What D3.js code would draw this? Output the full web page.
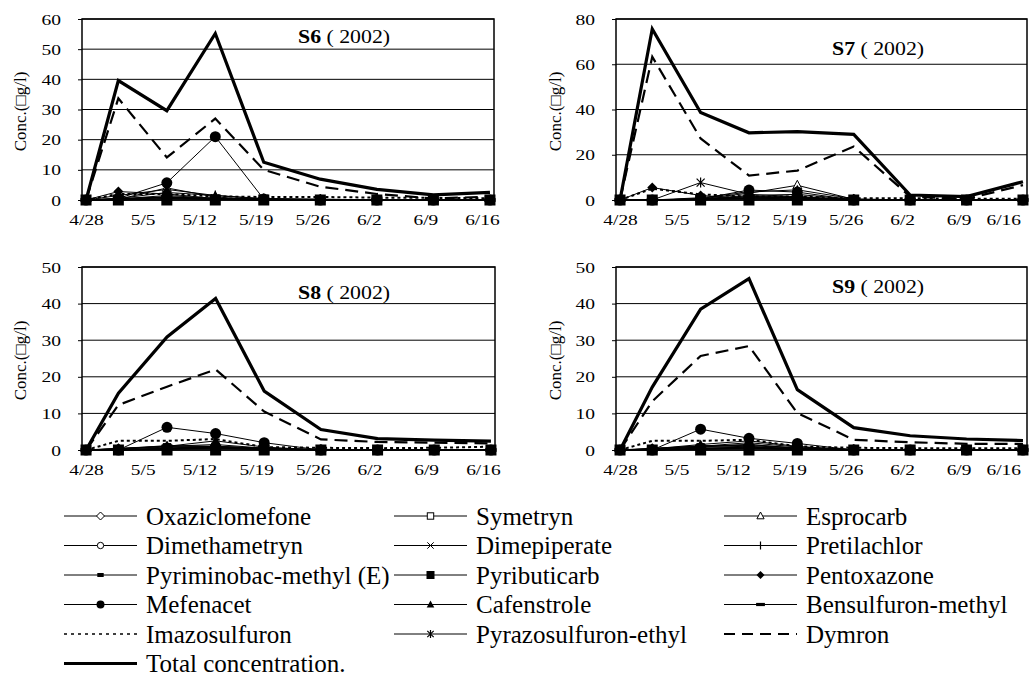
<!DOCTYPE html>
<html>
<head>
<meta charset="utf-8">
<script src="https://cdn.jsdelivr.net/npm/d3@7"></script>
<style>
  body { margin: 0; background: #fff; }
  svg { display: block; }
  text { font-family: "Liberation Serif", "Times New Roman", serif; fill: #000; }
</style>
</head>
<body>
<svg id="chart" width="1034" height="676"></svg>
<script>
// Sampling dates and weekly axis labels
const sampleDates = ["2002-04-28", "2002-05-02", "2002-05-08", "2002-05-14", "2002-05-20",
                     "2002-05-27", "2002-06-03", "2002-06-10", "2002-06-17"];
const tickDates = ["2002-04-28", "2002-05-05", "2002-05-12", "2002-05-19",
                   "2002-05-26", "2002-06-02", "2002-06-09", "2002-06-16"];

const seriesNames = ["Oxaziclomefone", "Symetryn", "Esprocarb",
                     "Dimethametryn", "Dimepiperate", "Pretilachlor",
                     "Pyriminobac-methyl (E)", "Pyributicarb", "Pentoxazone",
                     "Mefenacet", "Cafenstrole", "Bensulfuron-methyl",
                     "Imazosulfuron", "Pyrazosulfuron-ethyl", "Dymron",
                     "Total concentration."];

const siteNames = ["S6", "S7", "S8", "S9"];
const yMaxima = [60, 80, 50, 50];
const ySteps = [10, 20, 10, 10];

// Concentrations (µg/l), one row per entry of seriesNames
const s6Values = [
  [0, 0.0, 0.5, 0.2, 0, 0, 0, 0, 0],
  [0, 0.2, 1.0, 0.3, 0, 0, 0, 0, 0],
  [0, 0.2, 4.0, 1.0, 0, 0, 0, 0, 0],
  [0, 0.0, 0.8, 0.2, 0, 0, 0, 0, 0],
  [0, 0.0, 0.5, 0.3, 0.5, 0, 0, 0, 0],
  [0, 0.5, 2.5, 1.5, 0.5, 0.3, 0, 0, 0],
  [0, 0.3, 1.5, 0.5, 0, 0, 0, 0, 0],
  [0, 0, 0, 0, 0, 0, 0, 0, 0],
  [0, 2.8, 2.0, 0.5, 0, 0, 0, 0, 0],
  [0, 0.5, 5.7, 21.0, 0.3, 0, 0, 0, 0],
  [0, 1.5, 3.5, 1.5, 0.3, 0, 0, 0, 0],
  [0, 0.5, 1.0, 0.5, 0.3, 0.2, 0.1, 0, 0],
  [0, 2.0, 2.0, 1.2, 1.0, 1.0, 0.8, 0.7, 0.6],
  [0, 0.3, 1.0, 0.5, 0.2, 0, 0, 0, 0],
  [0, 33.7, 14.1, 27.0, 10.0, 4.4, 2.0, 0.5, 1.1],
  [0, 39.6, 29.6, 55.2, 12.5, 6.9, 3.5, 1.7, 2.5]
];
const s7Values = [
  [0, 0, 0.2, 0.5, 0.5, 0, 0, 0, 0],
  [0, 0, 0.3, 1.0, 1.2, 0, 0, 0, 0],
  [0, 0, 0.5, 3.0, 6.5, 0.3, 0, 0, 0],
  [0, 0, 0.2, 0.8, 0.5, 0, 0, 0, 0],
  [0, 0, 0.3, 1.0, 0.8, 0, 0, 0, 0],
  [0, 0, 0.5, 2.0, 2.5, 0.2, 0, 0, 0],
  [0, 0, 0.5, 1.5, 1.0, 0, 0, 0, 0],
  [0, 0, 0, 0, 0, 0, 0, 0, 0],
  [0, 5.5, 2.0, 0.5, 0.3, 0, 0, 0, 0],
  [0, 0, 0.5, 4.4, 3.5, 0, 0, 0, 0],
  [0, 0, 1.0, 3.5, 4.5, 0.5, 0, 0, 0],
  [0, 0, 0.3, 1.5, 1.5, 0.2, 0, 0, 0],
  [0, 5.0, 2.5, 1.5, 1.5, 0.8, 0.8, 0.5, 0.5],
  [0, 0, 7.7, 2.5, 1.5, 0, 0, 0, 0],
  [0, 63.3, 27.2, 10.8, 13.0, 23.6, 1.5, 0.5, 6.6],
  [0, 75.6, 38.7, 29.7, 30.2, 29.0, 2.2, 1.5, 8.1]
];
const s8Values = [
  [0, 0, 0.3, 0.5, 0.2, 0, 0, 0, 0],
  [0, 0, 0.5, 0.8, 0.3, 0, 0, 0, 0],
  [0, 0, 0.5, 1.0, 0.5, 0, 0, 0, 0],
  [0, 0, 0.2, 0.5, 0.2, 0, 0, 0, 0],
  [0, 0, 0.3, 0.8, 0.3, 0, 0, 0, 0],
  [0, 0.3, 1.0, 1.5, 0.5, 0.2, 0, 0, 0],
  [0, 0.3, 1.2, 1.0, 0.5, 0, 0, 0, 0],
  [0, 0, 0, 0, 0, 0, 0, 0, 0],
  [0, 0.5, 1.0, 1.0, 0.3, 0, 0, 0, 0],
  [0, 0, 6.2, 4.5, 2.0, 0, 0, 0, 0],
  [0, 0.3, 1.0, 2.5, 0.8, 0, 0, 0, 0],
  [0, 0.2, 0.8, 0.8, 0.3, 0.1, 0, 0, 0],
  [0, 2.5, 2.5, 3.0, 0.8, 0.6, 0.5, 0.6, 0.9],
  [0, 0, 0.5, 0.5, 0.2, 0, 0, 0, 0],
  [0, 12.3, 17.3, 22.0, 10.5, 2.9, 2.2, 2.0, 1.8],
  [0, 15.5, 30.9, 41.4, 16.1, 5.6, 3.1, 2.7, 2.4]
];
const s9Values = [
  [0, 0, 0.3, 0.5, 0.2, 0, 0, 0, 0],
  [0, 0, 0.5, 0.8, 0.3, 0, 0, 0, 0],
  [0, 0, 0.8, 1.5, 0.5, 0, 0, 0, 0],
  [0, 0, 0.2, 0.5, 0.2, 0, 0, 0, 0],
  [0, 0, 0.3, 0.8, 0.3, 0, 0, 0, 0],
  [0, 0.3, 1.0, 2.0, 0.8, 0.2, 0, 0, 0],
  [0, 0.3, 1.2, 1.2, 0.5, 0, 0, 0, 0],
  [0, 0, 0, 0, 0, 0, 0, 0, 0],
  [0, 0.5, 1.0, 1.5, 0.5, 0, 0, 0, 0],
  [0, 0, 5.7, 3.2, 1.8, 0, 0, 0, 0],
  [0, 0.3, 1.5, 2.5, 1.0, 0, 0, 0, 0],
  [0, 0.2, 0.8, 1.0, 0.3, 0.1, 0, 0, 0],
  [0, 2.5, 2.5, 2.8, 1.0, 0.6, 0.5, 0.5, 0.5],
  [0, 0, 0.5, 0.5, 0.2, 0, 0, 0, 0],
  [0, 13.3, 25.7, 28.4, 10.1, 2.8, 2.1, 1.7, 1.7],
  [0, 17.2, 38.5, 46.8, 16.5, 6.1, 3.9, 3.0, 2.6]
];
const siteValues = [s6Values, s7Values, s8Values, s9Values];

// ---- appearance -------------------------------------------------------
const serif = "Liberation Serif, Times New Roman, serif";
const markerKinds = ["diamondOpen", "squareOpen", "triangleOpen",
                     "circleOpen", "cross", "plus",
                     "smallRect", "square", "diamond",
                     "circle", "triangle", "bar",
                     "none", "asterisk", "none", "none"];
const lineStyles = seriesNames.map((n, i) => {
  if (i === 12) return { w: 2, dash: "3,3" };
  if (i === 14) return { w: 2.2, dash: "13,7" };
  if (i === 15) return { w: 3.2, dash: null };
  return { w: 1, dash: null };
});

const panels = [
  { left: 82,  right: 494,  top: 19,  bottom: 200, ylabX: 20,  titleX: 298, titleY: 43 },
  { left: 616, right: 1027, top: 19,  bottom: 200, ylabX: 555, titleX: 832, titleY: 55 },
  { left: 82,  right: 495,  top: 267, bottom: 450, ylabX: 20,  titleX: 298, titleY: 299 },
  { left: 616, right: 1027, top: 267, bottom: 450, ylabX: 555, titleX: 832, titleY: 293 }
];

const parse = d3.timeParse("%Y-%m-%d");
const halfDay = 12 * 3600 * 1000;
const svg = d3.select("#chart");

function drawMarker(g, kind, cx, cy, s) {
  const m = g.append("g").attr("transform", `translate(${cx},${cy})`);
  switch (kind) {
    case "diamondOpen":
      m.append("path").attr("d", `M0,${-s}L${s},0L0,${s}L${-s},0Z`)
        .attr("fill", "#fff").attr("stroke", "#000").attr("stroke-width", 1); break;
    case "diamond":
      m.append("path").attr("d", `M0,${-s}L${s},0L0,${s}L${-s},0Z`).attr("fill", "#000"); break;
    case "squareOpen":
      m.append("rect").attr("x", -s * 0.8).attr("y", -s * 0.8).attr("width", s * 1.6).attr("height", s * 1.6)
        .attr("fill", "#fff").attr("stroke", "#000").attr("stroke-width", 1); break;
    case "square":
      m.append("rect").attr("x", -s).attr("y", -s).attr("width", 2 * s).attr("height", 2 * s).attr("fill", "#000"); break;
    case "triangleOpen":
      m.append("path").attr("d", `M0,${-s}L${s * 0.9},${s * 0.7}L${-s * 0.9},${s * 0.7}Z`)
        .attr("fill", "#fff").attr("stroke", "#000").attr("stroke-width", 1); break;
    case "triangle":
      m.append("path").attr("d", `M0,${-s}L${s * 0.95},${s * 0.75}L${-s * 0.95},${s * 0.75}Z`).attr("fill", "#000"); break;
    case "circleOpen":
      m.append("circle").attr("r", s * 0.8).attr("fill", "#fff").attr("stroke", "#000").attr("stroke-width", 1); break;
    case "circle":
      m.append("circle").attr("r", s).attr("fill", "#000"); break;
    case "cross":
      m.append("path").attr("d", `M${-s * 0.8},${-s * 0.8}L${s * 0.8},${s * 0.8}M${-s * 0.8},${s * 0.8}L${s * 0.8},${-s * 0.8}`)
        .attr("stroke", "#000").attr("stroke-width", 1); break;
    case "plus":
      m.append("path").attr("d", `M0,${-s}L0,${s}M${-s * 0.8},0L${s * 0.8},0`)
        .attr("stroke", "#000").attr("stroke-width", 1.2); break;
    case "asterisk":
      m.append("path").attr("d", `M${-s * 0.8},${-s * 0.8}L${s * 0.8},${s * 0.8}M${-s * 0.8},${s * 0.8}L${s * 0.8},${-s * 0.8}M0,${-s}L0,${s}`)
        .attr("stroke", "#000").attr("stroke-width", 1.2); break;
    case "smallRect":
      m.append("rect").attr("x", -s * 0.8).attr("y", -s * 0.5).attr("width", s * 1.6).attr("height", s).attr("fill", "#000"); break;
    case "bar":
      m.append("rect").attr("x", -s * 1.1).attr("y", -s * 0.4).attr("width", s * 2.2).attr("height", s * 0.8).attr("fill", "#000"); break;
    default: break;
  }
}

panels.forEach((p, k) => {
  const values = siteValues[k];
  const dates = sampleDates.map(parse);
  // date axis runs from half a day before the first sample to half a day after the last
  const x = d3.scaleTime()
    .domain([new Date(parse("2002-04-28").getTime() - halfDay),
             new Date(parse("2002-06-17").getTime() + halfDay)])
    .range([p.left, p.right]);
  const y = d3.scaleLinear().domain([0, yMaxima[k]]).range([p.bottom, p.top]);
  const g = svg.append("g");
  const yTicks = d3.range(0, yMaxima[k] + 0.001, ySteps[k]);

  // horizontal gridlines
  g.append("g").selectAll("line").data(yTicks).join("line")
    .attr("x1", p.left).attr("x2", p.right)
    .attr("y1", d => y(d)).attr("y2", d => y(d))
    .attr("stroke", "#000").attr("stroke-width", 1);

  // y axis labels
  const yAxis = g.append("g").attr("transform", `translate(${p.left},0)`)
    .call(d3.axisLeft(y).tickValues(yTicks).tickSize(4).tickPadding(0))
    .attr("font-family", serif).attr("font-size", 15);
  yAxis.select(".domain").remove();
  yAxis.selectAll("line").attr("stroke", "#000");
  yAxis.selectAll("text")
    .attr("x", -21 / 1.3).attr("dy", "0.34em")
    .attr("transform", "scale(1.3,1)");

  // x axis labels (weekly)
  const xAxis = g.append("g").attr("transform", `translate(0,${p.bottom})`)
    .call(d3.axisBottom(x)
      .tickValues(tickDates.map(parse))
      .tickFormat(d3.timeFormat("%-m/%-d")).tickSize(0))
    .attr("font-family", serif).attr("font-size", 15.5);
  xAxis.select(".domain").remove();
  xAxis.selectAll("text")
    .attr("y", 25).attr("dy", 0)
    .attr("transform", "scale(1.25,1)");
  // the last label is nudged inward when it would run off the page
  xAxis.selectAll(".tick").each(function () {
    const t = d3.select(this);
    const tx = +t.attr("transform").match(/translate\(([-\d.]+)/)[1];
    const w = this.getBBox().width;
    const shift = Math.min(0, 1021 - (tx + w / 2));
    t.attr("transform", `translate(${tx + shift},0)`);
  });

  // plot frame
  g.append("rect")
    .attr("x", p.left).attr("y", p.top)
    .attr("width", p.right - p.left).attr("height", p.bottom - p.top)
    .attr("fill", "none").attr("stroke", "#000").attr("stroke-width", 1.5);

  // y axis title
  g.append("text")
    .attr("transform", `translate(${p.ylabX},${(p.top + p.bottom) / 2 + 2}) rotate(-90)`)
    .attr("text-anchor", "middle").attr("dy", "0.35em")
    .style("font-size", "17px")
    .text("Conc.(□g/l)");

  // panel title
  const title = g.append("text")
    .attr("transform", `translate(${p.titleX},${p.titleY}) scale(1.18,1)`)
    .style("font-size", "18.5px");
  title.append("tspan").style("font-weight", "bold").text(siteNames[k]);
  title.append("tspan").text(" ( 2002)");

  // series lines and markers
  const line = d3.line().x(d => x(d.date)).y(d => y(d.v));
  const series = seriesNames.map((name, i) => ({
    name, i, pts: values[i].map((v, j) => ({ date: dates[j], v }))
  }));
  series.forEach(s => {
    const st = lineStyles[s.i];
    g.append("path").datum(s.pts)
      .attr("d", line)
      .attr("fill", "none").attr("stroke", "#000")
      .attr("stroke-width", st.w)
      .attr("stroke-linejoin", "miter")
      .attr("stroke-dasharray", st.dash);
    if (markerKinds[s.i] !== "none") {
      const mg = g.append("g");
      s.pts.forEach(d => drawMarker(mg, markerKinds[s.i], x(d.date), y(d.v),
        (s.i === 7 || s.i === 9) ? 5.5 : 5));
    }
  });
});

// ---- legend -------------------------------------------------------------
const legendCols = [{ x0: 64, x1: 137, tx: 146 }, { x0: 394, x1: 467, tx: 476 }, { x0: 724, x1: 797, tx: 806 }];
const legendTop = 516, legendStep = 29.5;
const legend = svg.append("g");
seriesNames.forEach((name, i) => {
  const c = legendCols[i % 3];
  const ry = legendTop + Math.floor(i / 3) * legendStep;
  legend.append("line")
    .attr("x1", c.x0).attr("x2", c.x1).attr("y1", ry).attr("y2", ry)
    .attr("stroke", "#000")
    .attr("stroke-width", i === 15 ? 3 : (i === 14 ? 2 : (i === 12 ? 1.5 : 1)))
    .attr("stroke-dasharray", i === 14 ? "11,7" : (i === 12 ? "3,4" : null));
  drawMarker(legend, markerKinds[i], (c.x0 + c.x1) / 2, ry, 4);
  legend.append("text")
    .attr("x", c.tx).attr("y", ry).attr("dy", "0.34em")
    .style("font-size", "25px")
    .text(name);
});
</script>
</body>
</html>
